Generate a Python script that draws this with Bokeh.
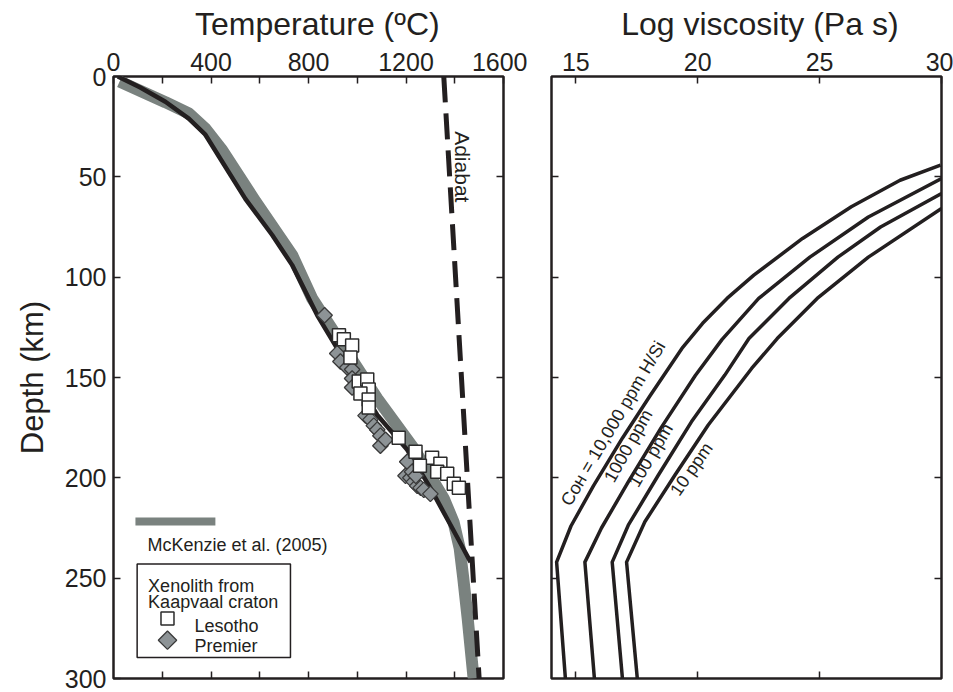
import numpy as np
from bokeh.plotting import figure
from bokeh.models import Range1d, LinearAxis, FixedTicker, BoxAnnotation, Label
from bokeh.layouts import row
from bokeh.embed import file_html
from bokeh.resources import INLINE

# ---------------- data ----------------
temp_ticks = [0, 400, 800, 1200, 1600]
temp_minor = [200, 600, 1000, 1400]
depth_ticks = [0, 50, 100, 150, 200, 250, 300]
visc_ticks = [15, 20, 25, 30]

geotherm_T = [18, 110, 213, 309, 377, 446, 541, 651, 733, 836, 1082, 1205, 1300, 1340, 1385, 1425, 1465]
geotherm_depth = [0, 5.5, 12.6, 21, 29, 42.5, 61, 79, 94, 119, 168.7, 186, 205, 214, 224, 233, 242]

mckenzie_T = [25, 213, 309, 377, 446, 583, 733, 815, 1082, 1232, 1355, 1395, 1420, 1435, 1453, 1476, 1478]
mckenzie_depth = [2.5, 12.8, 18.4, 26, 36.7, 62.4, 89, 110.6, 160.5, 185.4, 210.3, 222, 235, 250, 270, 298.3, 300]

adiabat_T = [1355, 1500]
adiabat_depth = [0, 300]

premier_T = [866, 918, 931, 959, 979, 979, 979, 1034, 1054, 1068, 1082, 1095, 1095, 1116,
             1205, 1198, 1218, 1232, 1246, 1260, 1273, 1300, 1225, 1240]
premier_depth = [119, 138, 142, 145, 146, 150.5, 155, 169, 171, 174, 176, 179, 184, 181,
                 192, 199, 200, 202, 204, 205, 206, 208, 197, 199]

lesotho_T = [925, 945, 979, 972, 1006, 1041, 1047, 1013, 1047, 1047, 1170, 1239, 1307,
             1341, 1257, 1328, 1369, 1396, 1417]
lesotho_depth = [129, 131, 134, 140, 152, 151, 156, 158, 161, 165, 180, 187, 190,
                 193, 194, 197, 198, 203, 205]

coh_labels = ["C\u1d0f\u029c = 10,000 ppm H/Si", "1000 ppm", "100 ppm", "10 ppm"]
visc_10000_depth = [300, 242, 224, 204, 180, 159, 135.5, 123, 110.6, 99, 80.7, 64.9, 51.7, 44.2]
visc_10000 = [14.57, 14.21, 14.80, 15.72, 16.92, 18.05, 19.35, 20.2, 21.2, 22.3, 24.3, 26.3, 28.3, 29.96]
visc_1000_depth = [300, 242, 225, 202, 175, 149, 131, 110.6, 90, 70, 50.8]
visc_1000 = [15.76, 15.37, 16.05, 17.15, 18.5, 19.9, 21.0, 22.5, 24.6, 27.0, 30.0]
visc_100_depth = [300, 242, 223.6, 198.7, 172.1, 148.8, 130.6, 110.6, 90, 75, 58.3]
visc_100 = [16.91, 16.49, 17.15, 18.38, 19.74, 21.11, 22.1, 23.74, 25.75, 27.5, 30.0]
visc_10_depth = [300, 242, 221.9, 198.7, 173.7, 145.5, 130.6, 110.6, 90, 65.8]
visc_10 = [17.52, 17.08, 17.83, 19.06, 20.43, 22.21, 23.26, 24.9, 27.0, 30.0]

# ---------------- style ----------------
INK = "#231f20"
GREY = "#7a827f"
FONT = "Liberation Sans"
NB = "\u00a0"


def style_axis(ax, labels=True, size="25px"):
    ax.axis_line_color = None
    ax.major_tick_in = 7
    ax.major_tick_out = 0
    ax.minor_tick_in = 7
    ax.minor_tick_out = 0
    ax.major_tick_line_color = INK
    ax.minor_tick_line_color = INK
    ax.major_tick_line_width = 1.5
    ax.minor_tick_line_width = 1.5
    ax.major_label_text_font = FONT
    if labels:
        ax.major_label_text_font_size = size
        ax.major_label_text_color = INK
        ax.major_label_standoff = 6
    else:
        ax.major_label_text_font_size = "1px"
        ax.major_label_text_color = None
        ax.major_label_standoff = 0


def axis_title(ax, text, size="32px", standoff=8):
    ax.axis_label = text
    ax.axis_label_text_font_size = size
    ax.axis_label_text_font_style = "normal"
    ax.axis_label_text_font = FONT
    ax.axis_label_text_color = INK
    ax.axis_label_standoff = standoff


def base_fig(width, xr, mbl, mbr):
    p = figure(width=width, height=692, x_range=xr, y_range=Range1d(300, 0),
               x_axis_location="above", output_backend="svg", toolbar_location=None,
               min_border_left=mbl, min_border_right=mbr, min_border_top=76, min_border_bottom=14)
    p.grid.visible = False
    p.outline_line_color = INK
    p.outline_line_width = 2.5
    p.outline_line_alpha = 1
    p.background_fill_color = "white"
    p.border_fill_color = "white"
    return p


# ---------------- left panel ----------------
p1 = base_fig(527, Range1d(0, 1600), 113, 24)
xa = p1.xaxis[0]
xa.ticker = FixedTicker(ticks=temp_ticks, minor_ticks=temp_minor)
style_axis(xa)
axis_title(xa, NB * 2 + "Temperature (\u00baC)")
ya = p1.yaxis[0]
ya.ticker = FixedTicker(ticks=depth_ticks)
style_axis(ya)
ya.minor_tick_line_color = None
ya.major_label_standoff = 7
axis_title(ya, "Depth (km)", size="31px", standoff=12)

bx = LinearAxis(ticker=FixedTicker(ticks=temp_ticks[1:-1], minor_ticks=temp_minor))
style_axis(bx, labels=False)
p1.add_layout(bx, "below")
ry = LinearAxis(ticker=FixedTicker(ticks=depth_ticks[1:-1]))
style_axis(ry, labels=False)
ry.minor_tick_line_color = None
p1.add_layout(ry, "right")

p1.line(mckenzie_T, mckenzie_depth, line_color=GREY, line_width=12, line_join="round")
p1.line(geotherm_T, geotherm_depth, line_color=INK, line_width=4.5, line_join="round")
p1.line(adiabat_T, adiabat_depth, line_color=INK, line_width=5, line_dash="26 11")
p1.scatter(premier_T, premier_depth, marker="square", size=11, angle=np.pi / 4,
           fill_color="#8d9396", line_color="#3a3a3a", line_width=1.3)
p1.scatter(lesotho_T, lesotho_depth, marker="square", size=13,
           fill_color="white", line_color="#2b2b2b", line_width=1.5)

p1.add_layout(Label(x=1430, y=45, text="Adiabat", angle=-np.pi / 2, text_align="center",
                    text_baseline="middle", text_font=FONT, text_font_size="21px", text_color=INK))

# legend (drawn by hand)
p1.line([90, 418], [221.8, 221.8], line_color=GREY, line_width=8)
p1.add_layout(Label(x=139.5, y=233.7, text="McKenzie et al. (2005)", text_font=FONT,
                    text_font_size="18px", text_color=INK, text_baseline="alphabetic"))
p1.add_layout(BoxAnnotation(left=97, right=726, top=243, bottom=289.5, fill_color=None,
                            line_color=INK, line_width=1.5, line_alpha=1))
p1.add_layout(Label(x=142, y=254, text="Xenolith from", text_font=FONT,
                    text_font_size="18px", text_color=INK, text_baseline="alphabetic"))
p1.add_layout(Label(x=142, y=262, text="Kaapvaal craton", text_font=FONT,
                    text_font_size="18px", text_color=INK, text_baseline="alphabetic"))
p1.scatter([221.5], [270.1], marker="square", size=13, fill_color="white",
           line_color="#2b2b2b", line_width=1.5)
p1.add_layout(Label(x=332, y=273.6, text="Lesotho", text_font=FONT,
                    text_font_size="18px", text_color=INK, text_baseline="alphabetic"))
p1.scatter([221.5], [280.9], marker="square", size=13, angle=np.pi / 4,
           fill_color="#8d9396", line_color="#3a3a3a", line_width=1.3)
p1.add_layout(Label(x=332, y=284, text="Premier", text_font=FONT,
                    text_font_size="18px", text_color=INK, text_baseline="alphabetic"))

# ---------------- right panel ----------------
p2 = base_fig(426, Range1d(14, 30), 24, 12)
xa2 = p2.xaxis[0]
xa2.ticker = FixedTicker(ticks=visc_ticks)
style_axis(xa2)
axis_title(xa2, NB * 3 + "Log viscosity (Pa s)")
ya2 = p2.yaxis[0]
ya2.ticker = FixedTicker(ticks=depth_ticks[1:-1])
style_axis(ya2, labels=False)
ya2.minor_tick_line_color = None
bx2 = LinearAxis(ticker=FixedTicker(ticks=visc_ticks[:-1]))
style_axis(bx2, labels=False)
bx2.minor_tick_line_color = None
p2.add_layout(bx2, "below")
ry2 = LinearAxis(ticker=FixedTicker(ticks=depth_ticks[1:-1]))
style_axis(ry2, labels=False)
ry2.minor_tick_line_color = None
p2.add_layout(ry2, "right")

for xs, ds in [(visc_10000, visc_10000_depth), (visc_1000, visc_1000_depth),
               (visc_100, visc_100_depth), (visc_10, visc_10_depth)]:
    p2.line(xs, ds, line_color=INK, line_width=3.5, line_join="round")

label_pos = [(16.53, 172.9, 59.4), (17.15, 184.1, 60.8), (18.07, 188.7, 59.7), (19.74, 195.7, 55.3)]
for txt, (lx, ly, ang) in zip(coh_labels, label_pos):
    p2.add_layout(Label(x=lx, y=ly, text=txt, angle=np.deg2rad(ang), text_align="center",
                        text_baseline="middle", text_font=FONT, text_font_size="18px",
                        text_color=INK))

layout = row(p1, p2)
open("out.html", "w").write(file_html(layout, INLINE))
